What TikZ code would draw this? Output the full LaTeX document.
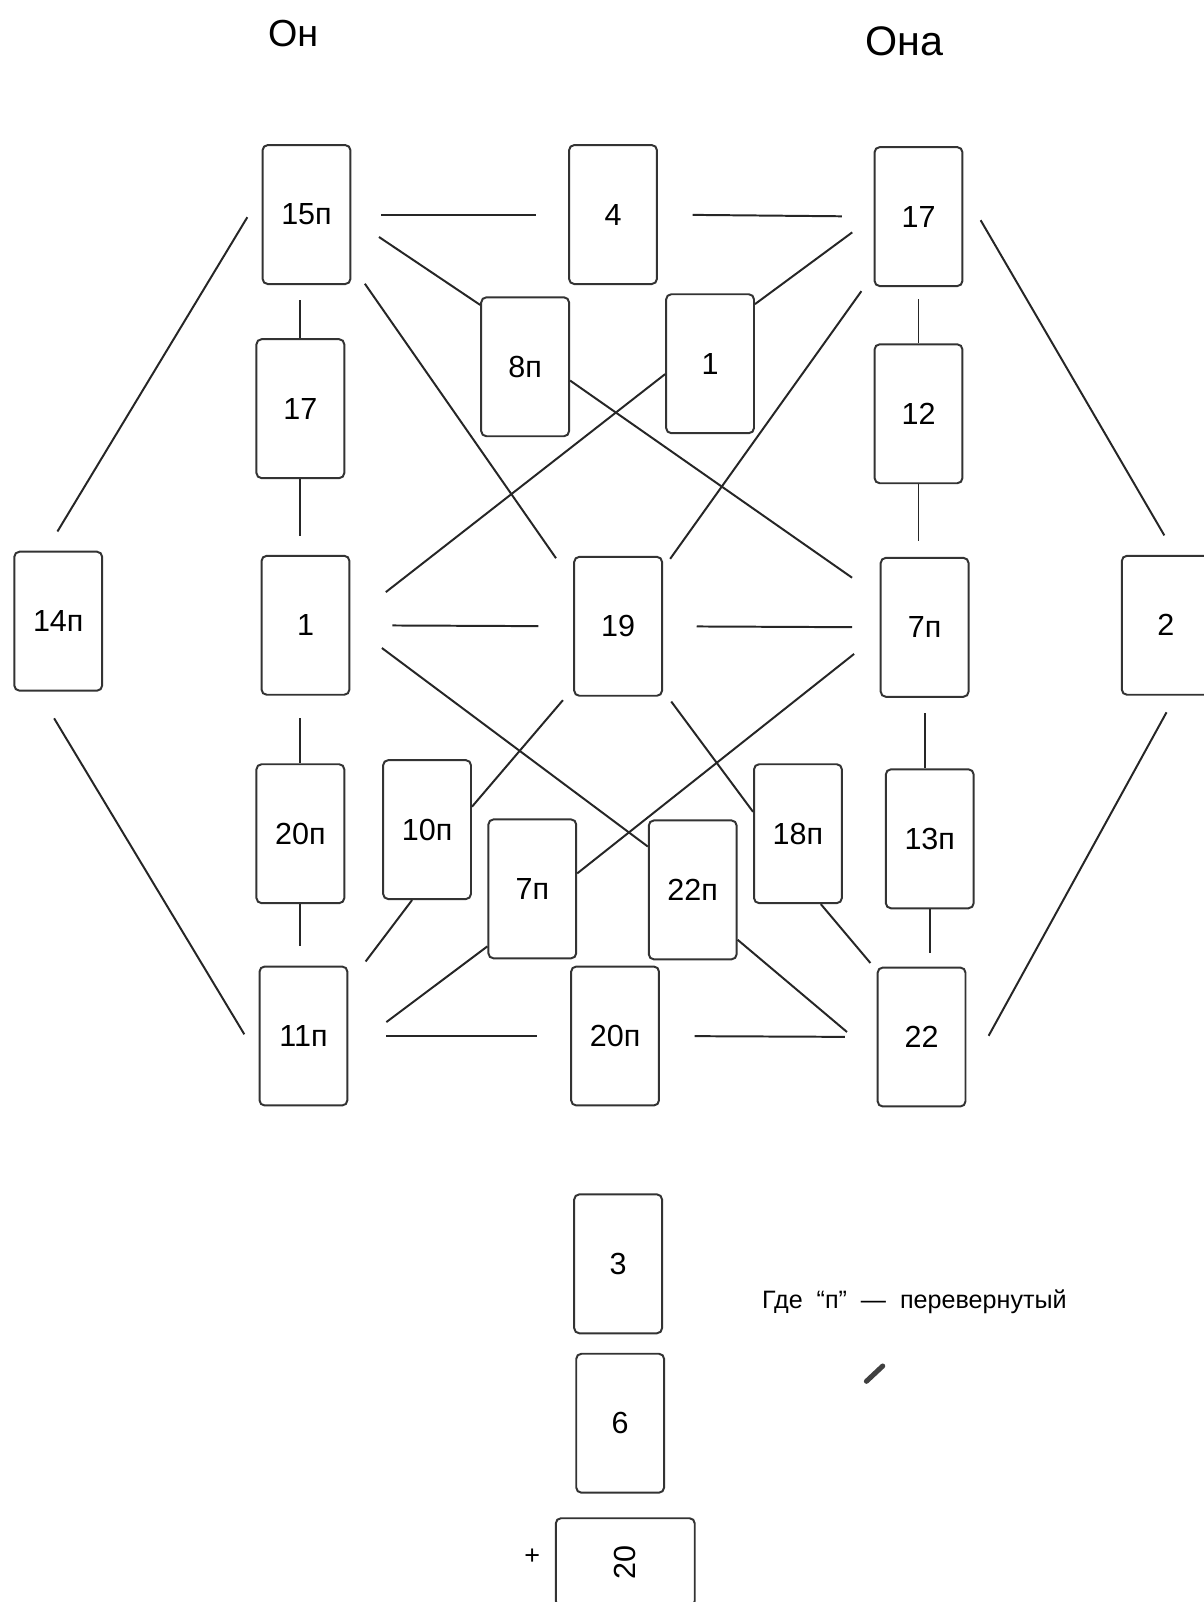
\documentclass[tikz,border=0pt]{standalone}
\usepackage{fontspec}
\setmainfont{Liberation Sans}
\tikzset{
  card/.style={draw=black!80, line width=1.1pt, rounded corners=0.1cm,
    minimum width=1.72cm, minimum height=2.72cm, inner sep=0pt,
    font=\fontsize{17}{20}\selectfont},
  link/.style={draw=black!85, line width=1.1pt},
}
\begin{document}
\begin{tikzpicture}[x=0.02cm, y=-0.02cm]
  \useasboundingbox (0,0) rectangle (1178,1568);
  % heads
  \node[font=\fontsize{21}{24}\selectfont] (he) at (287,33) {Он};
  \node[font=\fontsize{23}{26}\selectfont] (she) at (885,40) {Она};
  % cards
  \node[card] (c15p) at (300,210) {15п};
  \node[card] (c4) at (600,210) {4};
  \node[card] (c17a) at (899,212) {17};
  \node[card] (c8p) at (514,359) {8п};
  \node[card] (c1a) at (695,356) {1};
  \node[card] (c17b) at (294,400) {17};
  \node[card] (c12) at (899,405) {12};
  \node[card] (c14p) at (57,608) {14п};
  \node[card] (c1b) at (299,612) {1};
  \node[card] (c19) at (605,613) {19};
  \node[card] (c7p) at (905,614) {7п};
  \node[card] (c2) at (1141,612) {2};
  \node[card] (c20p) at (294,816) {20п};
  \node[card] (c10p) at (418,812) {10п};
  \node[card] (c7pb) at (521,870) {7п};
  \node[card] (c22p) at (678,871) {22п};
  \node[card] (c18p) at (781,816) {18п};
  \node[card] (c13p) at (910,821) {13п};
  \node[card] (c11p) at (297,1014) {11п};
  \node[card] (c20pb) at (602,1014) {20п};
  \node[card] (c22) at (902,1015) {22};
  \node[card] (c3) at (605,1237) {3};
  \node[card] (c6) at (607,1393) {6};
  \node[card, rotate=90] (c20) at (612,1529) {20};
  \node[font=\fontsize{15}{17}\selectfont] (plus) at (521,1524) {+};
  \node[font=\fontsize{14}{16}\selectfont] (note) at (895,1274) {Где \ “п” \ — \ перевернутый};
  % links
  \draw[link, shorten <=0.58cm, shorten >=0.62cm] (c15p.east) -- (c4.west);
  \draw[link, shorten <=0.68cm, shorten >=0.62cm] (c4.east) -- (c17a.west);
  \draw[link, shorten <=0.65cm] (c15p.355) -- (c8p.126);
  \draw[link, shorten <=0.46cm, shorten >=0.59cm] (c15p.312) -- (c19.136);
  \draw[link, shorten <=0.3cm] (c15p.south -| c17b) -- (c17b.north);
  \draw[link, shorten <=0.54cm, shorten >=0.44cm] (c15p.155) -- (c14p.100);
  \draw[link, shorten <=0.52cm] (c17a.180) -- (c1a.53);
  \draw[link, shorten <=0.41cm, shorten >=0.24cm] (c17a.232) -- (c19.52);
  \draw[link, shorten <=0.24cm] (c17a.south) -- (c12.north);
  \draw[link, shorten <=0.67cm, shorten >=0.44cm] (c17a.30) -- (c2.82);
  \draw[link, shorten >=0.66cm] (c8p.343) -- (c7p.146);
  \draw[link, shorten >=0.88cm] (c1a.193) -- (c1b.7);
  \draw[link, shorten >=0.36cm] (c17b.south) -- (c1b.north -| c17b);
  \draw[link, shorten >=0.32cm] (c12.south) -- (c7p.north -| c12);
  \draw[link, shorten <=0.82cm, shorten >=0.68cm] (c1b.east) -- (c19.west);
  \draw[link, shorten <=0.66cm, shorten >=0.54cm] (c19.east) -- (c7p.west);
  \draw[link, shorten <=0.77cm] (c1b.1) -- (c22p.136);
  \draw[link, shorten <=0.61cm, shorten >=0.54cm] (c14p.254) -- (c11p.206);
  \draw[link, shorten <=0.44cm] (c1b.south -| c20p) -- (c20p.north);
  \draw[link, shorten <=0.31cm] (c19.234) -- (c10p.27);
  \draw[link, shorten <=0.27cm] (c19.305) -- (c18p.154);
  \draw[link, shorten <=0.64cm] (c7p.188) -- (c7pb.19);
  \draw[link, shorten <=0.3cm] (c7p.south) -- (c13p.north -| c7p);
  \draw[link, shorten <=0.37cm, shorten >=0.9cm] (c2.278) -- (c22.319);
  \draw[link, shorten >=0.38cm] (c20p.south) -- (c11p.north -| c20p);
  \draw[link, shorten >=0.56cm] (c10p.258) -- (c11p.49);
  \draw[link, shorten >=0.93cm] (c7pb.232) -- (c11p.342);
  \draw[link, shorten >=0.76cm] (c22p.312) -- (c22.204);
  \draw[link, shorten >=0.19cm] (c18p.288) -- (c22.124);
  \draw[link, shorten >=0.26cm] (c13p.south) -- (c22.north -| c13p);
  \draw[link, shorten <=0.74cm, shorten >=0.64cm] (c11p.east) -- (c20pb.west);
  \draw[link, shorten <=0.68cm, shorten >=0.62cm] (c20pb.east) -- (c22.west);
  % pencil mark
  \draw[line width=2.8pt, line cap=round, black!75] (848,1352) -- (864,1337);
\end{tikzpicture}
\end{document}
